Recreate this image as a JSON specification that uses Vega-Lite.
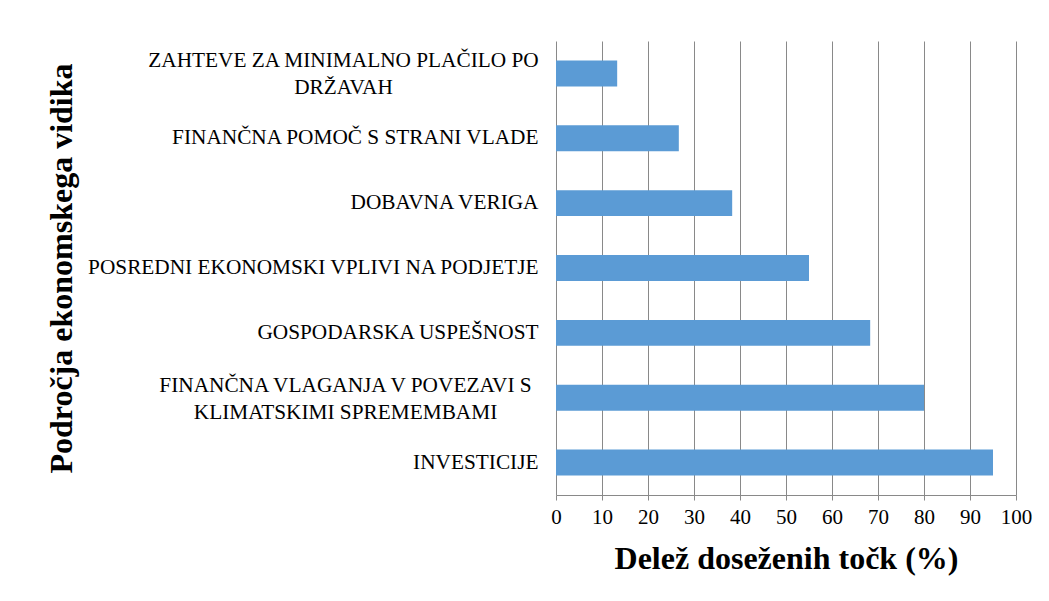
{
  "$schema": "https://vega.github.io/schema/vega-lite/v6.json",
  "width": 460,
  "height": 454,
  "autosize": {"type": "none"},
  "padding": {"left": 556, "top": 41, "right": 33, "bottom": 106},
  "background": "white",
  "config": {"view": {"stroke": null}, "font": "Liberation Serif"},
  "data": {
    "values": [
      {"podrocje": "ZAHTEVE ZA MINIMALNO PLAČILO PO\nDRŽAVAH", "delez": 13.3},
      {"podrocje": "FINANČNA POMOČ S STRANI VLADE", "delez": 26.7},
      {"podrocje": "DOBAVNA VERIGA", "delez": 38.3},
      {"podrocje": "POSREDNI EKONOMSKI VPLIVI NA PODJETJE", "delez": 55},
      {"podrocje": "GOSPODARSKA USPEŠNOST", "delez": 68.3},
      {"podrocje": "FINANČNA VLAGANJA V POVEZAVI S\nKLIMATSKIMI SPREMEMBAMI", "delez": 80},
      {"podrocje": "INVESTICIJE", "delez": 95}
    ]
  },
  "mark": {"type": "bar", "color": "#5B9BD5"},
  "encoding": {
    "y": {
      "field": "podrocje",
      "type": "nominal",
      "sort": null,
      "scale": {"paddingInner": 0.6, "paddingOuter": 0.3},
      "axis": {
        "title": "Področja ekonomskega vidika",
        "titleFont": "Liberation Serif",
        "titleFontSize": 32,
        "titleFontWeight": "bold",
        "titleColor": "black",
        "titleAngle": 270,
        "titleX": -485,
        "titleY": 227,
        "titleAlign": "center",
        "titleBaseline": "alphabetic",
        "labelFont": "Liberation Serif",
        "labelFontSize": 21.3,
        "labelColor": "black",
        "labelLimit": 0,
        "labelExpr": "split(datum.label, '\\n')",
        "labelLineHeight": 27,
        "labelBaseline": "middle",
        "labelAlign": {"condition": {"test": "test(/ZAHTEVE|VLAGANJA/, datum.value)", "value": "center"}, "value": "right"},
        "labelOffset": {"condition": {"test": "test(/ZAHTEVE|VLAGANJA/, datum.value)", "value": -12}, "value": 0},
        "labelPadding": {"condition": [
          {"test": "test(/ZAHTEVE/, datum.value)", "value": 213},
          {"test": "test(/VLAGANJA/, datum.value)", "value": 211}
        ], "value": 18},
        "ticks": false,
        "domain": false,
        "grid": false
      }
    },
    "x": {
      "field": "delez",
      "type": "quantitative",
      "scale": {"domain": [0, 100], "nice": false},
      "axis": {
        "title": "Delež doseženih točk (%)",
        "titleFont": "Liberation Serif",
        "titleFontSize": 32,
        "titleFontWeight": "bold",
        "titleColor": "black",
        "titlePadding": 16,
        "values": [0, 10, 20, 30, 40, 50, 60, 70, 80, 90, 100],
        "labelFont": "Liberation Serif",
        "labelFontSize": 21,
        "labelColor": "black",
        "labelPadding": 6,
        "labelFlush": false,
        "labelOverlap": false,
        "tickSize": 5,
        "tickColor": "#898989",
        "domainColor": "#898989",
        "grid": true,
        "gridColor": "#898989",
        "gridOpacity": 1
      }
    }
  }
}
